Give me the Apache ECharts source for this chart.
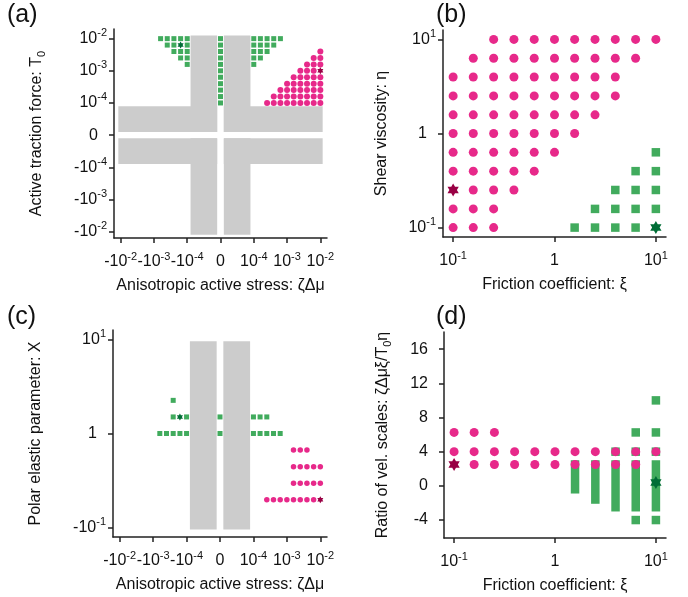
<!DOCTYPE html>
<html><head><meta charset="utf-8">
<script src="https://cdn.jsdelivr.net/npm/echarts@6/dist/echarts.min.js"></script>
<style>html,body{margin:0;padding:0;background:#fff}#c{width:688px;height:597px}</style>
</head><body><div id="c"></div>
<script>
// ================= DATA =================
// Panel (a): T0 rows and the ζΔμ values plotted in each row
const aT0Green = [1e-2, 6.31e-3, 3.98e-3, 2.51e-3, 1.58e-3, 1e-3, 6.31e-4, 3.98e-4, 2.51e-4, 1.58e-4, 1e-4];
const aZdmGreen = [
  [-6.31e-4, -3.98e-4, -2.51e-4, -1.58e-4, -1e-4, 0, 1e-4, 1.58e-4, 2.51e-4, 3.98e-4, 6.31e-4],
  [-3.98e-4, -2.51e-4, -1e-4, 0, 1e-4, 1.58e-4, 2.51e-4, 3.98e-4],
  [-2.51e-4, -1.58e-4, -1e-4, 0, 1e-4, 1.58e-4, 2.51e-4],
  [-1.58e-4, -1e-4, 0, 1e-4, 1.58e-4],
  [-1e-4, 0, 1e-4],
  [0], [0], [0], [0], [0], [0]
];
const aT0Pink = [3.98e-3, 2.51e-3, 1.58e-3, 1e-3, 6.31e-4, 3.98e-4, 2.51e-4, 1.58e-4, 1e-4];
const aZdmPink = [
  [1e-2],
  [6.31e-3, 1e-2],
  [3.98e-3, 6.31e-3, 1e-2],
  [2.51e-3, 3.98e-3, 6.31e-3],
  [1.58e-3, 2.51e-3, 3.98e-3, 6.31e-3, 1e-2],
  [1e-3, 1.58e-3, 2.51e-3, 3.98e-3, 6.31e-3, 1e-2],
  [6.31e-4, 1e-3, 1.58e-3, 2.51e-3, 3.98e-3, 6.31e-3, 1e-2],
  [3.98e-4, 6.31e-4, 1e-3, 1.58e-3, 2.51e-3, 3.98e-3, 6.31e-3, 1e-2],
  [2.51e-4, 3.98e-4, 6.31e-4, 1e-3, 1.58e-3, 2.51e-3, 3.98e-3, 6.31e-3, 1e-2]
];
const aStarPink = [1e-2, 1e-3];
const aStarGreen = [-1.58e-4, 6.31e-3];
// excluded (gray) regions, in symlog axis units [x1, x2, y1, y2]
const aGray = [
  [-0.9, -0.1, 0.1, 3.1], [0.1, 0.9, 0.1, 3.1], [-0.9, -0.1, -3.1, -0.1], [0.1, 0.9, -3.1, -0.1],
  [-3.07, -0.1, 0.1, 0.9], [0.1, 3.07, 0.1, 0.9], [-3.07, -0.1, -0.9, -0.1], [0.1, 3.07, -0.9, -0.1]
];
const symTicks = [-3, -2, -1, 0, 1, 2, 3];

// Panel (b): η rows and the ξ values in each row
const bEtaPink = [10, 6.31, 3.98, 2.51, 1.58, 1, 0.631, 0.398, 0.251, 0.158, 0.1];
const bXiPink = [
  [0.251, 0.398, 0.631, 1, 1.58, 2.51, 3.98, 6.31, 10],
  [0.158, 0.251, 0.398, 0.631, 1, 1.58, 2.51, 3.98, 6.31],
  [0.1, 0.158, 0.251, 0.398, 0.631, 1, 1.58, 2.51, 3.98],
  [0.1, 0.158, 0.251, 0.398, 0.631, 1, 1.58, 2.51, 3.98],
  [0.1, 0.158, 0.251, 0.398, 0.631, 1, 1.58, 2.51],
  [0.1, 0.158, 0.251, 0.398, 0.631, 1, 1.58],
  [0.1, 0.158, 0.251, 0.398, 0.631, 1],
  [0.1, 0.158, 0.251, 0.398, 0.631],
  [0.158, 0.251, 0.398],
  [0.1, 0.158, 0.251],
  [0.1, 0.158, 0.251]
];
const bEtaGreen = [0.631, 0.398, 0.251, 0.158, 0.1];
const bXiGreen = [[10], [6.31, 10], [3.98, 6.31, 10], [2.51, 3.98, 6.31, 10], [1.58, 2.51, 3.98, 6.31]];
const bStarPink = [0.1, 0.251];
const bStarGreen = [10, 0.1];
const logTicks = [-1, 0, 1];

// Panel (c): X rows and ζΔμ values
const cXGreen = [2.25, 1.5, 1];
const cZdmGreen = [
  [-2.51e-4],
  [-2.51e-4, -1e-4, 0, 1e-4, 1.58e-4, 2.51e-4],
  [-6.31e-4, -3.98e-4, -2.51e-4, -1.58e-4, -1e-4, 0, 1e-4, 1.58e-4, 2.51e-4, 3.98e-4, 6.31e-4]
];
const cXPink = [0.667, 0.444, 0.296, 0.198];
const cZdmPink = [
  [1.58e-3, 2.51e-3, 3.98e-3],
  [1.58e-3, 2.51e-3, 3.98e-3, 6.31e-3, 1e-2],
  [1.58e-3, 2.51e-3, 3.98e-3, 6.31e-3, 1e-2],
  [2.51e-4, 3.98e-4, 6.31e-4, 1e-3, 1.58e-3, 2.51e-3, 3.98e-3, 6.31e-3]
];
const cStarPink = [1e-2, 0.198];
const cStarGreen = [-1.58e-4, 1.5];
const cGray = [[-0.9, -0.1, -1.02, 0.98], [0.1, 0.9, -1.02, 0.98]];

// Panel (d): ratio rows and ξ values
const dRatioPink = [6.25, 4, 2.5];
const dXiPink = [
  [0.1, 0.158, 0.251],
  [0.1, 0.158, 0.251, 0.398, 0.631, 1, 1.58, 2.51, 3.98, 6.31, 10],
  [0.158, 0.251, 0.398, 0.631, 1, 1.58, 2.51, 3.98, 6.31]
];
const dXiGreen = [3.98, 6.31, 6.31, 6.31, 10, 10, 10, 10];
const dRatioGreen = [4, 6.25, 4, -4, 10, 6.25, 4, -4];
const dRangeXi = [1.58, 2.51, 3.98, 6.31, 10];
const dRangeLo = [-0.4, -1.6, -2.5, -2.5, -2.5];
const dRangeHi = [2.5, 2.5, 2.5, 2.5, 2.5];
const dStarPink = [0.1, 2.5];
const dStarGreen = [10, 0.4];
const dTicks = [-4, 0, 4, 8, 12, 16];

// ================= HELPERS =================
const PINK = '#E7298A', GREEN = '#41AB5D', DPINK = '#990044', DGREEN = '#006D36', GRAY = '#CCCCCC';
const FONT = 'Liberation Sans, Arial, Helvetica, sans-serif';
const TXT = '#111';
const STAR = 'path://M0,-10L2.89,-5L8.66,-5L5.77,0L8.66,5L2.89,5L0,10L-2.89,5L-8.66,5L-5.77,0L-8.66,-5L-2.89,-5Z';
const symlog = v => v === 0 ? 0 : Math.sign(v) * (Math.log10(Math.abs(v)) + 5);
const lg = v => Math.log10(v);

function rowsToPoints(rowVals, colLists, fx, fy) {
  const out = [];
  rowVals.forEach((r, i) => colLists[i].forEach(c => out.push([fx(c), fy(r)])));
  return out;
}
const rich = {
  b: {fontSize: 16, lineHeight: 22, color: TXT, fontFamily: FONT},
  s: {fontSize: 11, lineHeight: 11, verticalAlign: 'top', color: TXT, fontFamily: FONT},
  sp: {fontSize: 11, width: 9, lineHeight: 11}
};
const symLabelX = v => v === 0 ? '{b|0}' : '{b|' + (v < 0 ? '-' : '') + '10}{s|' + (Math.abs(v) - 5) + '}';
const symLabelY = v => v === 0 ? '{b|0}{sp| }' : '{b|' + (v < 0 ? '-' : '') + '10}{s|' + (Math.abs(v) - 5) + '}';
const logLabelX = v => v === 0 ? '{b|1}' : '{b|10}{s|' + v + '}';
const logLabelY = v => v === 0 ? '{b|1}{sp| }' : '{b|10}{s|' + v + '}';
const cYLabel = v => v === 0 ? '{b|1}{sp| }' : (v < 0 ? '{b|-10}{s|-1}' : '{b|10}{s|1}');
const dYLabel = v => '{b|' + v + '}{sp| }';

const axLine = {show: true, onZero: false, lineStyle: {color: '#222', width: 1.5}};
function mkAxis(gi, type, min, max, ticks, fmt, name, gap) {
  return {
    type: 'value', gridIndex: gi, min: min, max: max,
    axisLine: axLine,
    axisTick: {show: true, length: 5, lineStyle: {color: '#222', width: 1.5}, customValues: ticks},
    axisLabel: {customValues: ticks, formatter: fmt, rich: rich, margin: type === 'x' ? 13 : 7, color: TXT},
    splitLine: {show: false},
    name: name, nameLocation: 'middle', nameGap: gap,
    nameTextStyle: {fontSize: 16, color: TXT, fontFamily: FONT, lineHeight: 20,
      rich: {sub: {fontSize: 11, lineHeight: 11, verticalAlign: 'bottom', color: TXT, fontFamily: FONT}}}
  };
}

function scatter(ax, data, symbol, size, color, z) {
  return {type: 'scatter', xAxisIndex: ax, yAxisIndex: ax, data: data, symbol: symbol,
    symbolSize: size, symbolKeepAspect: true, itemStyle: {color: color, opacity: 1},
    z: z || 3, silent: true, animation: false};
}
function grayRects(ax, rects) {
  return {type: 'custom', xAxisIndex: ax, yAxisIndex: ax, data: rects, z: 1, silent: true,
    renderItem: (params, api) => {
      const p1 = api.coord([api.value(0), api.value(3)]);
      const p2 = api.coord([api.value(1), api.value(2)]);
      return {type: 'rect', shape: {x: p1[0], y: p1[1], width: p2[0] - p1[0], height: p2[1] - p1[1]},
        style: {fill: GRAY}};
    }};
}

// ================= OPTION =================
const option = {
  animation: false,
  textStyle: {fontFamily: FONT},
  grid: [
    {left: 114, top: 29, width: 213, height: 209},
    {left: 443, top: 30, width: 223, height: 207},
    {left: 113, top: 330, width: 214, height: 207},
    {left: 444, top: 332, width: 222, height: 206}
  ],
  xAxis: [
    mkAxis(0, 'x', -3.2, 3.2, symTicks, symLabelX, 'Anisotropic active stress: ζΔμ', 38),
    mkAxis(1, 'x', -1.1, 1.1, logTicks, logLabelX, 'Friction coefficient: ξ', 38),
    mkAxis(2, 'x', -3.2, 3.2, symTicks, symLabelX, 'Anisotropic active stress: ζΔμ', 38),
    mkAxis(3, 'x', -1.1, 1.1, logTicks, logLabelX, 'Friction coefficient: ξ', 38)
  ],
  yAxis: [
    mkAxis(0, 'y', -3.2, 3.3, symTicks, symLabelY, 'Active traction force: T{sub|0}', 67),
    mkAxis(1, 'y', -1.1, 1.1, logTicks, logLabelY, 'Shear viscosity: η', 51),
    mkAxis(2, 'y', -1.1, 1.1, logTicks, cYLabel, 'Polar elastic parameter: X', 67),
    mkAxis(3, 'y', -6.1, 18, dTicks, dYLabel, 'Ratio of vel. scales: ζΔμξ/T{sub|0}η', 51)
  ],
  graphic: [
    {type: 'text', left: 7, top: 3, style: {text: '(a)', fontSize: 25, fill: TXT, fontFamily: FONT}},
    {type: 'text', left: 436, top: 3, style: {text: '(b)', fontSize: 25, fill: TXT, fontFamily: FONT}},
    {type: 'text', left: 7, top: 305, style: {text: '(c)', fontSize: 25, fill: TXT, fontFamily: FONT}},
    {type: 'text', left: 436, top: 305, style: {text: '(d)', fontSize: 25, fill: TXT, fontFamily: FONT}}
  ],
  series: [
    // (a)
    grayRects(0, aGray),
    scatter(0, rowsToPoints(aT0Green, aZdmGreen, symlog, symlog), 'rect', 5, GREEN),
    scatter(0, rowsToPoints(aT0Pink, aZdmPink, symlog, symlog), 'circle', 6, PINK),
    scatter(0, [[symlog(aStarPink[0]), symlog(aStarPink[1])]], STAR, 7, DPINK, 5),
    scatter(0, [[symlog(aStarGreen[0]), symlog(aStarGreen[1])]], STAR, 7, DGREEN, 5),
    // (b)
    scatter(1, rowsToPoints(bEtaPink, bXiPink, lg, lg), 'circle', 9, PINK),
    scatter(1, rowsToPoints(bEtaGreen, bXiGreen, lg, lg), 'rect', 8.5, GREEN),
    scatter(1, [[lg(bStarPink[0]), lg(bStarPink[1])]], STAR, 13, DPINK, 5),
    scatter(1, [[lg(bStarGreen[0]), lg(bStarGreen[1])]], STAR, 13, DGREEN, 5),
    // (c)
    grayRects(2, cGray),
    scatter(2, rowsToPoints(cXGreen, cZdmGreen, symlog, lg), 'rect', 5, GREEN),
    scatter(2, rowsToPoints(cXPink, cZdmPink, symlog, lg), 'circle', 5.5, PINK),
    scatter(2, [[symlog(cStarPink[0]), lg(cStarPink[1])]], STAR, 7, DPINK, 5),
    scatter(2, [[symlog(cStarGreen[0]), lg(cStarGreen[1])]], STAR, 7, DGREEN, 5),
    // (d)
    {type: 'custom', xAxisIndex: 3, yAxisIndex: 3, z: 2, silent: true,
      data: dRangeXi.map((x, i) => [lg(x), dRangeLo[i], dRangeHi[i]]),
      renderItem: (params, api) => {
        const top = api.coord([api.value(0), api.value(2)]);
        const bot = api.coord([api.value(0), api.value(1)]);
        const w = 8.5;
        return {type: 'rect', shape: {x: top[0] - w / 2, y: top[1] - w / 2, width: w, height: bot[1] - top[1] + w},
          style: {fill: GREEN}};
      }},
    scatter(3, dXiGreen.map((x, i) => [lg(x), dRatioGreen[i]]), 'rect', 8.5, GREEN, 2),
    scatter(3, rowsToPoints(dRatioPink, dXiPink, lg, v => v), 'circle', 9, PINK, 3),
    scatter(3, [[lg(dStarPink[0]), dStarPink[1]]], STAR, 13, DPINK, 5),
    scatter(3, [[lg(dStarGreen[0]), dStarGreen[1]]], STAR, 13, DGREEN, 5)
  ]
};
const chart = echarts.init(document.getElementById('c'), null, {renderer: 'canvas'});
chart.setOption(option);
</script>
</body></html>
